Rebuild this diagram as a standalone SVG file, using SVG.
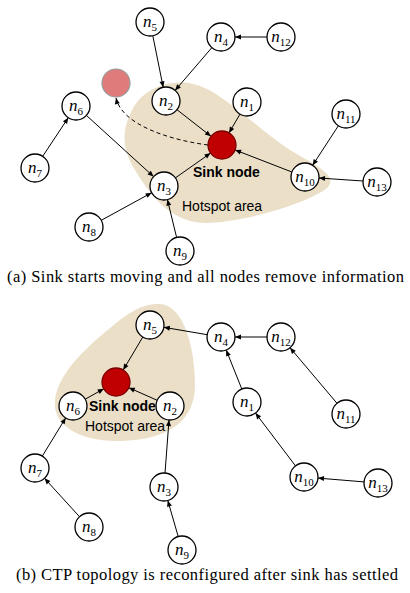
<svg xmlns="http://www.w3.org/2000/svg" width="410" height="593" viewBox="0 0 410 593">
<defs>
<marker id="ah" markerUnits="userSpaceOnUse" markerWidth="6" markerHeight="5" refX="6" refY="2.5" orient="auto" overflow="visible">
<path d="M0,0 L6,2.5 L0,5 z" fill="#000"/>
</marker>
<style>
.nd{fill:#fff;stroke:#000;stroke-width:1.3}
.lb{font-family:"Liberation Serif",serif;font-style:italic;font-size:17px;text-anchor:middle}
.sb{font-style:normal;font-size:11px}
.ed{stroke:#000;stroke-width:1;fill:none;marker-end:url(#ah)}
.sink{fill:#c00000;stroke:#7a0000;stroke-width:1.3}
.hs{fill:#ebdfc7}
.sn{font-family:"Liberation Sans",Arial,sans-serif;font-weight:bold;font-size:14px}
.ha{font-family:"Liberation Sans",Arial,sans-serif;font-size:14px}
.cap{font-family:"Liberation Serif","Times New Roman",serif;font-size:16.5px}
</style>
</defs>
<rect width="410" height="593" fill="#fff"/>

<!-- Hotspot areas -->
<path class="hs" d="M130,115 C140,85 180,75 205,88 C230,100 260,130 290,150 C315,165 338,175 328,187 C315,200 250,222 205,223 C170,222 150,195 135,170 C122,150 122,130 130,115 Z"/>
<path class="hs" d="M160,304 C185,306 195,350 195,385 C195,420 170,440 120,441 C80,442 52,425 55,400 C58,370 95,340 120,320 C135,308 148,303 160,304 Z"/>

<g id="connectors">
<!-- (a) -->
<line class="ed" x1="152.8" y1="35.7" x2="163.2" y2="87.3"/>
<line class="ed" x1="211.9" y1="47.6" x2="175.1" y2="90.4"/>
<line class="ed" x1="267" y1="37" x2="235" y2="37"/>
<line class="ed" x1="177" y1="109.7" x2="211" y2="136.3"/>
<line class="ed" x1="240" y1="114.1" x2="229" y2="132.9"/>
<line class="ed" x1="86.4" y1="115.4" x2="153.6" y2="176.6"/>
<line class="ed" x1="42.7" y1="156.3" x2="68.3" y2="117.7"/>
<line class="ed" x1="175.4" y1="177.9" x2="210.6" y2="153.1"/>
<line class="ed" x1="291.9" y1="172" x2="235.1" y2="150"/>
<line class="ed" x1="338.4" y1="125.7" x2="312.6" y2="165.3"/>
<line class="ed" x1="363" y1="181" x2="319" y2="178"/>
<line class="ed" x1="101.3" y1="220.3" x2="151.7" y2="192.7"/>
<line class="ed" x1="176.6" y1="237.4" x2="167.4" y2="199.6"/>
<path class="ed" stroke-dasharray="4,3" d="M208,145 C170,140 122,125 116,98"/>
<!-- (b) -->
<line class="ed" x1="142.8" y1="337" x2="123.2" y2="370"/>
<line class="ed" x1="85.2" y1="399.2" x2="103.8" y2="388.8"/>
<line class="ed" x1="157.2" y1="400.3" x2="128.8" y2="387.7"/>
<line class="ed" x1="207.2" y1="334.7" x2="163.8" y2="327.3"/>
<line class="ed" x1="267" y1="337" x2="235" y2="337"/>
<line class="ed" x1="241.8" y1="389" x2="226.2" y2="350"/>
<line class="ed" x1="337" y1="403.3" x2="290" y2="347.7"/>
<line class="ed" x1="295.5" y1="465.9" x2="255.5" y2="413.1"/>
<line class="ed" x1="364" y1="481.9" x2="318" y2="478.1"/>
<line class="ed" x1="42.3" y1="456.1" x2="65.7" y2="417.9"/>
<line class="ed" x1="79.5" y1="516.7" x2="44.5" y2="478.3"/>
<line class="ed" x1="165" y1="473" x2="169" y2="420"/>
<line class="ed" x1="178.2" y1="536.5" x2="167.8" y2="500.5"/>
</g>

<!-- (a) nodes -->
<g id="a-sink"><circle class="sink" cx="222" cy="145" r="14"/></g>
<g id="a-ghost"><circle cx="116" cy="83" r="14" fill="#e07b7b" stroke="#9a9a9a" stroke-width="1.2"/></g>
<g id="a-n5"><circle class="nd" cx="150" cy="22" r="14"/><text class="lb" x="150" y="27">n<tspan class="sb" dy="4">5</tspan></text></g>
<g id="a-n4"><circle class="nd" cx="221" cy="37" r="14"/><text class="lb" x="221" y="42">n<tspan class="sb" dy="4">4</tspan></text></g>
<g id="a-n12"><circle class="nd" cx="281" cy="37" r="14"/><text class="lb" x="281" y="42">n<tspan class="sb" dy="4">12</tspan></text></g>
<g id="a-n2"><circle class="nd" cx="166" cy="101" r="14"/><text class="lb" x="166" y="106">n<tspan class="sb" dy="4">2</tspan></text></g>
<g id="a-n1"><circle class="nd" cx="247" cy="102" r="14"/><text class="lb" x="247" y="107">n<tspan class="sb" dy="4">1</tspan></text></g>
<g id="a-n6"><circle class="nd" cx="76" cy="106" r="14"/><text class="lb" x="76" y="111">n<tspan class="sb" dy="4">6</tspan></text></g>
<g id="a-n11"><circle class="nd" cx="346" cy="114" r="14"/><text class="lb" x="346" y="119">n<tspan class="sb" dy="4">11</tspan></text></g>
<g id="a-n7"><circle class="nd" cx="35" cy="168" r="14"/><text class="lb" x="35" y="173">n<tspan class="sb" dy="4">7</tspan></text></g>
<g id="a-n3"><circle class="nd" cx="164" cy="186" r="14"/><text class="lb" x="164" y="191">n<tspan class="sb" dy="4">3</tspan></text></g>
<g id="a-n10"><circle class="nd" cx="305" cy="177" r="14"/><text class="lb" x="305" y="182">n<tspan class="sb" dy="4">10</tspan></text></g>
<g id="a-n13"><circle class="nd" cx="377" cy="182" r="14"/><text class="lb" x="377" y="187">n<tspan class="sb" dy="4">13</tspan></text></g>
<g id="a-n8"><circle class="nd" cx="89" cy="227" r="14"/><text class="lb" x="89" y="232">n<tspan class="sb" dy="4">8</tspan></text></g>
<g id="a-n9"><circle class="nd" cx="180" cy="251" r="14"/><text class="lb" x="180" y="256">n<tspan class="sb" dy="4">9</tspan></text></g>
<text class="sn" x="193" y="177">Sink node</text>
<text class="ha" x="182" y="211">Hotspot area</text>
<text class="cap" x="7" y="282" textLength="397">(a) Sink starts moving and all nodes remove information</text>

<!-- (b) nodes -->
<g id="b-sink"><circle class="sink" cx="116" cy="382" r="14"/></g>
<g id="b-n5"><circle class="nd" cx="150" cy="325" r="14"/><text class="lb" x="150" y="330">n<tspan class="sb" dy="4">5</tspan></text></g>
<g id="b-n6"><circle class="nd" cx="73" cy="406" r="14"/><text class="lb" x="73" y="411">n<tspan class="sb" dy="4">6</tspan></text></g>
<g id="b-n2"><circle class="nd" cx="170" cy="406" r="14"/><text class="lb" x="170" y="411">n<tspan class="sb" dy="4">2</tspan></text></g>
<g id="b-n4"><circle class="nd" cx="221" cy="337" r="14"/><text class="lb" x="221" y="342">n<tspan class="sb" dy="4">4</tspan></text></g>
<g id="b-n12"><circle class="nd" cx="281" cy="337" r="14"/><text class="lb" x="281" y="342">n<tspan class="sb" dy="4">12</tspan></text></g>
<g id="b-n1"><circle class="nd" cx="247" cy="402" r="14"/><text class="lb" x="247" y="407">n<tspan class="sb" dy="4">1</tspan></text></g>
<g id="b-n11"><circle class="nd" cx="346" cy="414" r="14"/><text class="lb" x="346" y="419">n<tspan class="sb" dy="4">11</tspan></text></g>
<g id="b-n7"><circle class="nd" cx="35" cy="468" r="14"/><text class="lb" x="35" y="473">n<tspan class="sb" dy="4">7</tspan></text></g>
<g id="b-n3"><circle class="nd" cx="164" cy="487" r="14"/><text class="lb" x="164" y="492">n<tspan class="sb" dy="4">3</tspan></text></g>
<g id="b-n10"><circle class="nd" cx="304" cy="477" r="14"/><text class="lb" x="304" y="482">n<tspan class="sb" dy="4">10</tspan></text></g>
<g id="b-n13"><circle class="nd" cx="378" cy="483" r="14"/><text class="lb" x="378" y="488">n<tspan class="sb" dy="4">13</tspan></text></g>
<g id="b-n8"><circle class="nd" cx="89" cy="527" r="14"/><text class="lb" x="89" y="532">n<tspan class="sb" dy="4">8</tspan></text></g>
<g id="b-n9"><circle class="nd" cx="182" cy="550" r="14"/><text class="lb" x="182" y="555">n<tspan class="sb" dy="4">9</tspan></text></g>
<text class="sn" x="89" y="411" font-size="13.5">Sink node</text>
<text class="ha" x="85" y="431">Hotspot area</text>
<text class="cap" x="16" y="580" textLength="382">(b) CTP topology is reconfigured after sink has settled</text>
</svg>
